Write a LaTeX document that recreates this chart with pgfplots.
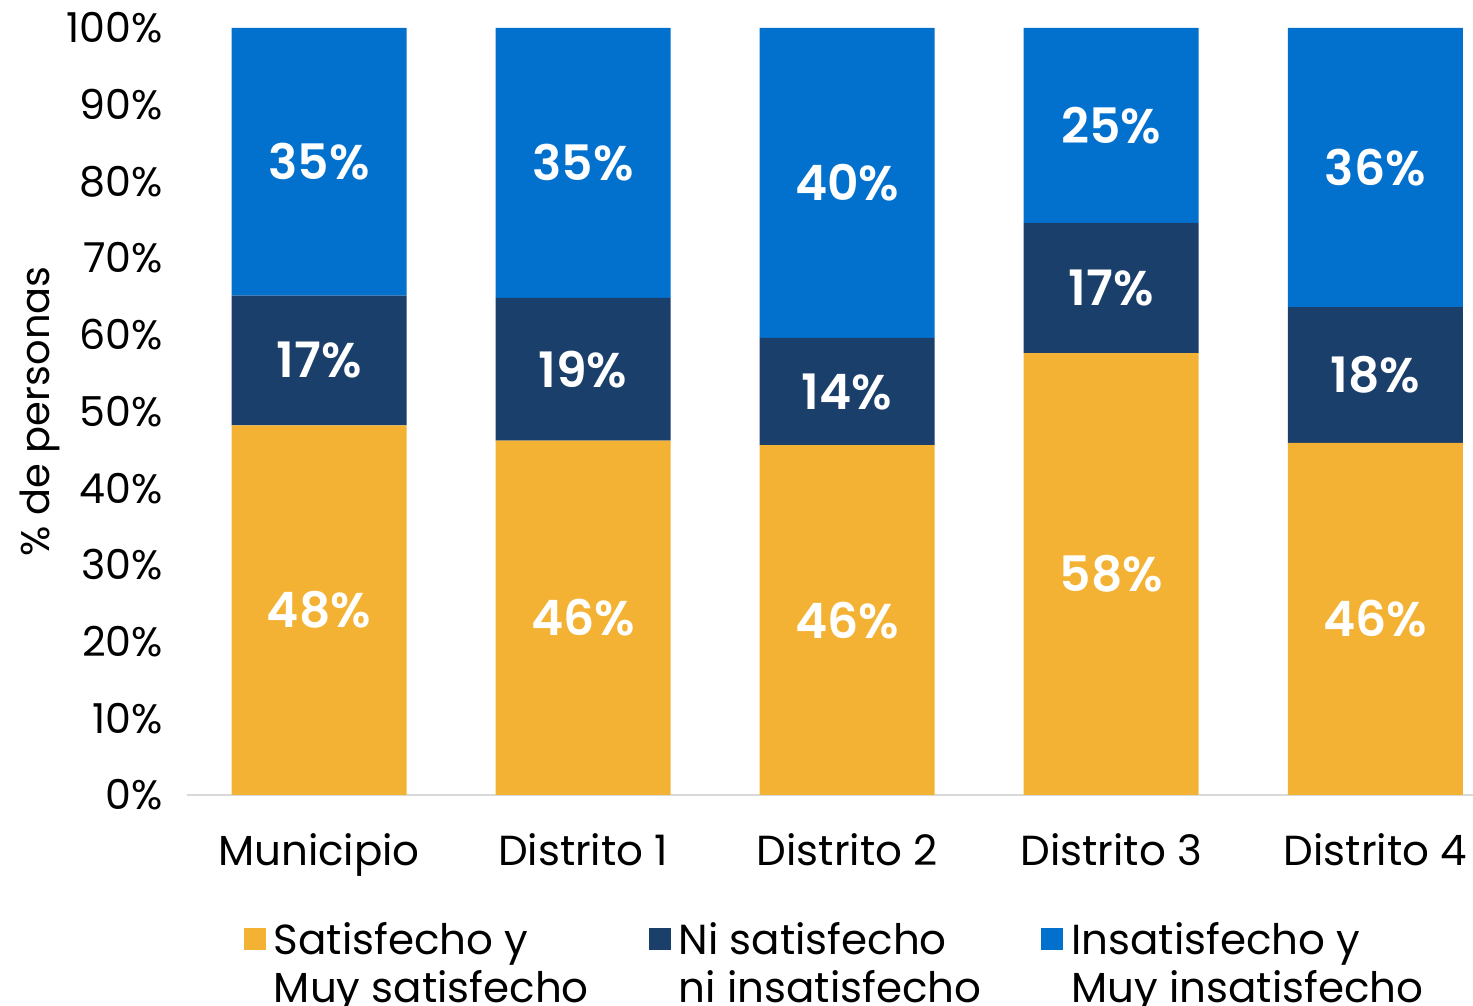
\documentclass[border=0pt]{standalone}
\usepackage{pgfplots}
\pgfplotsset{compat=1.18}
\usepackage{fontspec}
\setmainfont{Poppins}
\newfontfamily\semib{Poppins SemiBold}
\definecolor{cSat}{HTML}{F3B234}
\definecolor{cNi}{HTML}{1B3F6B}
\definecolor{cIns}{HTML}{0271CE}
\definecolor{cAxis}{HTML}{D9D9D9}

\begin{document}
\begin{tikzpicture}
\begin{axis}[
  name=ax,
  scale only axis,
  width=321.5pt, height=191.75pt,
  ybar stacked,
  bar width=43.75pt,
  xmin=-0.5, xmax=4.37,
  ymin=0, ymax=100,
  xtick={0,1,2,3,4},
  xticklabels={Municipio, Distrito 1, Distrito 2, Distrito 3, Distrito 4},
  ytick={0,10,...,100},
  yticklabel={\pgfmathprintnumber{\tick}\%},
  /pgf/number format/assume math mode=true,
  major tick length=0pt,
  axis x line*=bottom,
  axis y line*=left,
  x axis line style={draw=cAxis, line width=0.4pt, -},
  y axis line style={draw=none},
  yticklabel style={font=\fontsize{10.3}{12}\selectfont, xshift=-2.5pt},
  xticklabel style={font=\fontsize{10.5}{12}\selectfont, yshift=-6pt},
  ylabel={\% de personas},
  every axis y label/.style={at={(rel axis cs:-0.1143,0.5)}, anchor=center, rotate=90,
    font=\fontsize{10}{12}\selectfont},
  point meta=explicit symbolic,
  nodes near coords,
  every node near coord/.append style={white, anchor=center,
    font=\semib\fontsize{12.2}{14}\selectfont},
  legend columns=3,
  legend style={at={(0.506,-0.144)}, anchor=north, draw=none, fill=none,
    font=\fontsize{10.5}{12}\selectfont, cells={align=left},
    /tikz/every even column/.append style={column sep=13pt}},
  legend image code/.code={\fill[#1] (0pt,3.75pt) rectangle (5.5pt,9.25pt);},
]
\addplot[fill=cSat, draw=none] coordinates {(0,48.2)[48\%] (1,46.2)[46\%] (2,45.6)[46\%] (3,57.6)[58\%] (4,45.9)[46\%]};
\addplot[fill=cNi, draw=none] coordinates {(0,16.9)[17\%] (1,18.6)[19\%] (2,14.0)[14\%] (3,17.0)[17\%] (4,17.7)[18\%]};
\addplot[fill=cIns, draw=none] coordinates {(0,34.9)[35\%] (1,35.2)[35\%] (2,40.4)[40\%] (3,25.4)[25\%] (4,36.4)[36\%]};
\legend{Satisfecho y\\Muy satisfecho, Ni satisfecho\\ni insatisfecho, Insatisfecho y\\Muy insatisfecho}
\end{axis}
\pgfresetboundingbox
\path[use as bounding box] ([xshift=-46.75pt,yshift=7pt]ax.north west) rectangle ([yshift=-52.75pt]ax.south east);
\end{tikzpicture}
\end{document}
